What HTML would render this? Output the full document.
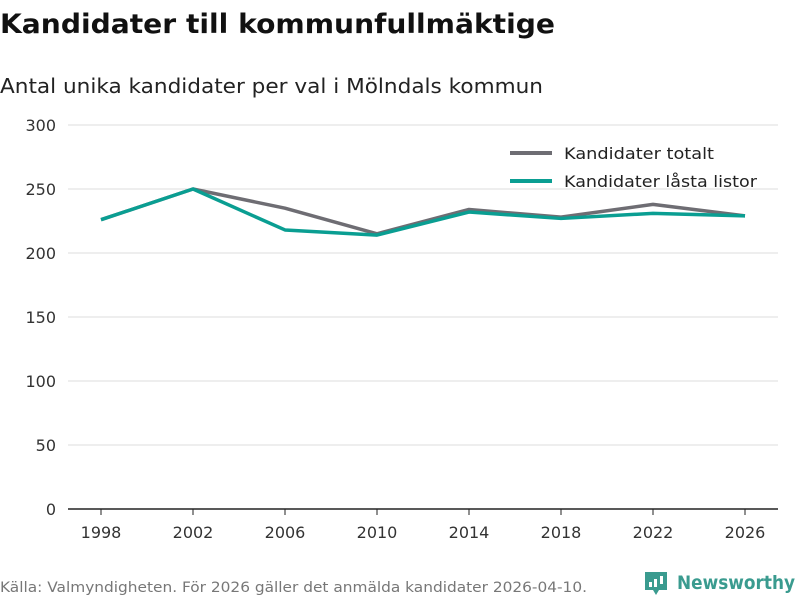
<!DOCTYPE html>
<html><head><meta charset="utf-8"><style>
body{margin:0;width:800px;height:600px;background:#fff;font-family:"DejaVu Sans","Liberation Sans",sans-serif;overflow:hidden}
</style></head><body>
<svg id="c" width="800" height="600">
<text x="0" y="33" font-size="27" font-weight="bold" fill="#111" textLength="555" lengthAdjust="spacingAndGlyphs">Kandidater till kommunfullmäktige</text>
<text x="0" y="93" font-size="20" fill="#222" textLength="543" lengthAdjust="spacingAndGlyphs">Antal unika kandidater per val i Mölndals kommun</text>
<g id="grid"></g><g id="lines"></g>
<g>
<line x1="510" y1="153" x2="552" y2="153" stroke="#6e6d73" stroke-width="4"/>
<text x="564" y="159" font-size="16" fill="#222" textLength="150" lengthAdjust="spacingAndGlyphs">Kandidater totalt</text>
<line x1="510" y1="181" x2="552" y2="181" stroke="#0a9e92" stroke-width="4"/>
<text x="564" y="187" font-size="16" fill="#222" textLength="193" lengthAdjust="spacingAndGlyphs">Kandidater låsta listor</text>
</g>
<text x="0" y="592" font-size="14.5" fill="#777" textLength="587" lengthAdjust="spacingAndGlyphs">Källa: Valmyndigheten. För 2026 gäller det anmälda kandidater 2026-04-10.</text>
<g>
<path d="M645 572 h22 v18 h-8 l-3 5 l-3 -5 h-8 z" fill="#3a9b8f"/>
<rect x="649" y="582" width="3" height="5" fill="#fff"/><rect x="654" y="579" width="3" height="8" fill="#fff"/><rect x="660" y="576" width="3" height="8" fill="#fff"/>
<text x="677" y="589" font-size="19" font-weight="bold" fill="#3a9b8f" textLength="118" lengthAdjust="spacingAndGlyphs">Newsworthy</text>
</g>
</svg>
<script>
const years=[1998,2002,2006,2010,2014,2018,2022,2026];
const totalt=[226,250,235,215,234,228,238,229];
const lasta=[226,250,218,214,232,227,231,229];
const yTicks=[0,50,100,150,200,250,300];
const NS="http://www.w3.org/2000/svg";
const x=v=>101+(v-1998)*(644/28);
const y=v=>509-v*1.28;
const g=document.getElementById('grid'),L=document.getElementById('lines');
function mk(t,a,p){const e=document.createElementNS(NS,t);for(const k in a)e.setAttribute(k,a[k]);p.appendChild(e);return e;}
yTicks.forEach(t=>{
 const l=mk('line',{x1:68,x2:778,y1:y(t),y2:y(t),stroke:t===0?'#222':'#ddd','stroke-width':t===0?1.5:1},g);
 
 
 const tx=mk('text',{x:56,y:y(t)+6,'font-size':16,fill:'#333','text-anchor':'end'},g);tx.textContent=t;
 
 
});
years.forEach(yr=>{
 const tk=mk('line',{x1:x(yr),x2:x(yr),y1:509,y2:515,stroke:'#222'},g);
 
 
 const tx=mk('text',{x:x(yr),y:538,'font-size':16,fill:'#333','text-anchor':'middle'},g);tx.textContent=yr;
 
 
});
function line(vals,col,name){
 const p=mk('polyline',{points:vals.map((v,i)=>x(years[i])+','+y(v)).join(' '),fill:'none',stroke:col,'stroke-width':3.5,'stroke-linejoin':'round'},L);
 
 
}
line(totalt,'#6e6d73','line-kandidater-totalt');
line(lasta,'#0a9e92','line-kandidater-lasta-listor');
</script>
</body></html>
